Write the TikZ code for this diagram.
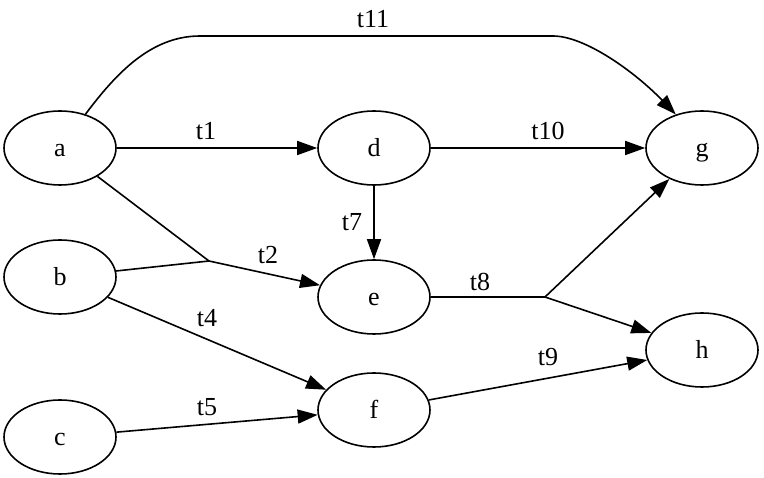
\documentclass[tikz,border=0pt]{standalone}
\usepackage{fontspec}
\setmainfont{Liberation Serif}
\usetikzlibrary{arrows.meta,shapes.geometric}
\begin{document}
\begin{tikzpicture}[x=1pt,y=-1pt,
  place/.style={ellipse,draw,line width=1.6pt,minimum width=112pt,minimum height=74pt,inner sep=0pt,
    text height=18pt,text depth=0pt,font=\fontsize{26}{31}\selectfont},
  lbl/.style={anchor=base,inner sep=0pt,font=\fontsize{26}{31}\selectfont},
  conn/.style={line width=1.6pt},
  arr/.style={line width=1.6pt,-{Triangle[length=20pt,width=14pt]}}]
\useasboundingbox (0,0) rectangle (764,478);
\node[place] (a) at (60,148) {a};
\node[place] (b) at (60,277) {b};
\node[place] (c) at (60,437) {c};
\node[place] (d) at (374,148) {d};
\node[place] (e) at (374,297) {e};
\node[place] (f) at (374,410) {f};
\node[place] (g) at (702,148) {g};
\node[place] (h) at (702,350) {h};
\coordinate (j1) at (209,261);
\coordinate (j2) at (545,297);
% t11
\draw[arr] (a.53) .. controls (115,75) and (150,36) .. (200,36) -- (553,36)
  .. controls (585,36) and (635,72) .. (g.128);
% t1, t10, t7
\draw[arr] (a) -- (d);
\draw[arr] (d) -- (g);
\draw[arr] (d) -- (e);
% t2
\draw[conn] (a) -- (j1);
\draw[conn] (b) -- (j1);
\draw[arr] (j1) -- (e);
% t8
\draw[conn] (e) -- (j2);
\draw[arr] (j2) -- (g);
\draw[arr] (j2) -- (h);
% t4, t5, t9
\draw[arr] (b) -- (f);
\draw[arr] (c) -- (f);
\draw[arr] (f) -- (h);
% labels
\node[lbl] (l11) at (373,28) {t11};
\node[lbl] (l1) at (206,140) {t1};
\node[lbl] (l10) at (548,140) {t10};
\node[lbl] (l7) at (352,230.5) {t7};
\node[lbl] (l2) at (268,263.5) {t2};
\node[lbl] (l4) at (207,326.5) {t4};
\node[lbl] (l5) at (207,415.5) {t5};
\node[lbl] (l8) at (480,290.5) {t8};
\node[lbl] (l9) at (548,365.5) {t9};
\end{tikzpicture}
\end{document}
